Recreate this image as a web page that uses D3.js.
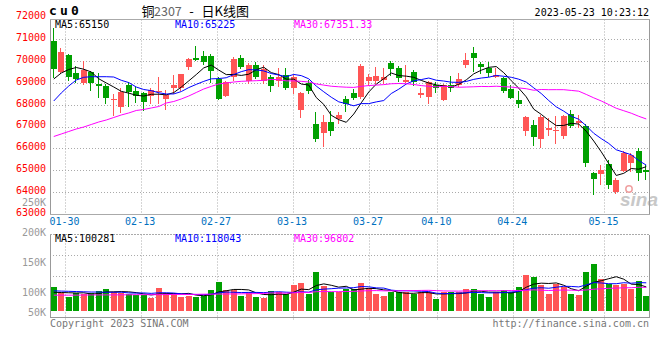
<!DOCTYPE html>
<html><head><meta charset="utf-8">
<script src="https://cdn.jsdelivr.net/npm/d3@7"></script>
<style>body{margin:0;background:#fff}svg{display:block}</style>
</head><body><svg id="c" width="660" height="360"></svg>
<script>
// ---------- data ----------
const dates = ["01-19","01-20","01-30","01-31","02-01","02-02","02-03","02-06","02-07","02-08","02-09","02-10","02-13","02-14","02-15","02-16","02-17","02-20","02-21","02-22","02-23","02-24","02-27","02-28",
"03-01","03-02","03-03","03-06","03-07","03-08","03-09","03-10","03-13","03-14","03-15","03-16","03-17","03-20","03-21","03-22","03-23","03-24","03-27","03-28","03-29","03-30","03-31",
"04-03","04-04","04-06","04-07","04-10","04-11","04-12","04-13","04-14","04-17","04-18","04-19","04-20","04-21","04-24","04-25","04-26","04-27","04-28",
"05-04","05-05","05-08","05-09","05-10","05-11","05-12","05-15","05-16","05-17","05-18","05-19","05-22","05-23"];
const open  = [70920,69514,70294,69468,68982,69486,68950,68860,68230,67908,68905,68630,68520,68400,68580,68275,68780,68750,69743,70140,70240,70240,69165,68400,69270,70140,69110,69820,69087,69270,69090,69360,68780,67757,68980,67115,66700,67205,67345,68262,68550,68367,69087,69090,69120,69900,69670,69040,69515,68460,68353,68900,68215,68905,68920,69820,70390,69880,69670,69285,69240,68730,68215,66807,67070,66413,66840,66800,66565,67560,67147,67025,64855,64820,65270,63980,64970,65310,65870,65010];
const high  = [71500,70600,70330,69775,69990,69550,69470,68935,68500,68780,69060,68830,68600,68750,69270,68675,69360,69420,70160,70690,70460,70310,69280,69080,70200,70280,69900,69940,69820,69360,69670,69670,69360,68600,69130,67650,67550,67730,67650,68400,68700,69850,69400,69740,69670,70020,69780,69820,69590,68750,69090,69050,68950,69320,69470,70360,70630,69970,69970,69670,69290,68900,68630,67490,67300,67530,67375,67480,67530,67760,67530,67100,64930,65230,65460,64630,65870,65800,66000,65230];
const low   = [69250,69440,69130,69055,68936,68675,68340,68090,67530,67650,67940,68140,67760,68070,68100,67790,68520,68675,69620,70050,69855,69050,68250,68380,69150,69670,68980,69210,68980,68640,68860,68730,68520,67450,68520,66350,66110,66630,67150,67725,68250,68320,68900,68980,68980,69360,69090,69030,68900,68370,68090,68600,68200,68650,68860,69740,69560,69440,69310,69260,68600,68290,67880,66610,66150,66075,66600,66230,66460,66990,66990,65200,63890,64360,64190,63960,64950,64970,64550,64590];
const close = [69650,70417,69284,69193,69592,69010,68870,68320,68270,68596,68596,68380,68140,68675,68620,68445,68890,69410,70096,70070,69975,69540,68262,69055,70110,69745,69820,69285,69640,68870,69285,68780,69285,68523,68640,66413,67210,66790,67515,68030,68310,69790,69270,69320,69260,69625,69210,69130,69055,68550,69028,68780,68905,68780,69180,70050,70160,69740,69440,69360,68640,68320,68030,67450,66530,67450,66945,66840,67480,67020,67266,65310,64590,65005,64320,64545,65800,65690,64850,64900];
const volume = [101,74,60,74,70,76,83,93,78,74,71,67,67,55,96,76,71,60,64,60,64,88,121,88,88,64,78,60,54,83,78,70,108,117,72,163,105,79,78,90,90,118,97,71,64,78,78,78,71,78,78,50,78,78,78,92,92,71,60,78,88,78,101,150,143,108,71,113,101,71,67,164,196,133,113,108,113,92,125,64].map(v => v * 1000);
// moving-average values before enough visible bars exist
const ma5Head  = [69179,69454,69615,69707];
const ma10Head = [68170,68537,68858,69133,69257,69284,69284,69284,69270];
const ma30Head = [66541,66656,66771,66886,66977,67092,67207,67298,67413,67528,67620,67734,67780,67849,67918,68078,68147,68262,68399,68560,68720,68840,68950,68995,69041,69073,69087,69101,69119];
const vma5Head  = [78000,77000,76000,75000];
const vma10Head = [84000,83000,82000,81000,80000,79000,79000,78000,78000];
const vma30Head = [66000,66000,66000,66000,66500,67000,67000,67000,67000,67500,67500,68000,68000,68000,68000,68500,69000,69000,69000,69500,70000,70000,70500,71000,71000,71500,72000,72500,73000];
const tickDates = ["01-30","02-13","02-27","03-13","03-27","04-10","04-24","05-15"];
const priceTicks = [72000,71000,70000,69000,68000,67000,66000,65000,64000,63000];
const volTicks = [250000,200000,150000,100000,50000];
const priceLegend = ["MA5:65150","MA10:65225","MA30:67351.33"];
const volLegend = ["MA5:100281","MA10:118043","MA30:96802"];
const symbol = "cu0", title = "2307", stamp = "2023-05-23 10:23:12";

// ---------- layout ----------
const L = 50, R = 650, pTop = 19.5, pBot = 213.5, vTop = 234.5, vBot = 317.5;
const UP = "#ff5555", DOWN = "#00a000", GRID = "#aaa", FRAME = "#999";
const MONO = "'DejaVu Sans Mono', monospace";
const n = close.length;
const svg = d3.select("#c");

const xb = d3.scaleBand().domain(d3.range(n)).range([L, R]);
const xc = i => xb(i) + xb.bandwidth() / 2;
const xGrid = d3.scaleLinear().domain([0, n - 1]).range([L, R]);
const y = d3.scaleLinear().domain([63000, 71000]).range([213.7, 39.3]);
const yV = d3.scaleLinear().domain([0, 200000]).range([311, 263]);
const yLab = d3.scaleLinear().domain([100000, 250000]).range([292.7, 202.7]);

function ma(arr, p, head) {
  return arr.map((_, i) => i < p - 1 ? head[i] : d3.mean(arr.slice(i - p + 1, i + 1)));
}
const tickIdx = tickDates.map(d => dates.indexOf(d));

// ---------- grid ----------
const g = svg.append("g");
[64000,65000,66000,67000,68000,69000,70000,71000].forEach(v => {
  const yy = Math.round(y(v)) + 0.5;
  g.append("line").attr("x1", L).attr("x2", R).attr("y1", yy).attr("y2", yy)
    .attr("stroke", GRID).attr("stroke-dasharray", "1,2");
});
[1,2,3].forEach(k => {
  const yy = Math.round(vTop + k * (vBot - vTop) / 4) + 0.5;
  g.append("line").attr("x1", L).attr("x2", R).attr("y1", yy).attr("y2", yy)
    .attr("stroke", GRID).attr("stroke-dasharray", "1,2");
});
tickIdx.forEach(i => {
  const xx = Math.round(xGrid(i)) + 0.5;
  g.append("line").attr("x1", xx).attr("x2", xx).attr("y1", pTop).attr("y2", pBot)
    .attr("stroke", GRID).attr("stroke-dasharray", "1,2");
  g.append("line").attr("x1", xx).attr("x2", xx).attr("y1", vTop).attr("y2", 321)
    .attr("stroke", GRID).attr("stroke-dasharray", "1,2");
});

// watermark
svg.append("text").attr("x", 620).attr("y", 206).attr("font-family", "'Liberation Sans', Arial")
  .attr("font-size", 19).attr("font-weight", "bold").attr("font-style", "italic")
  .attr("fill", "#c8c8c8").text("sina");
svg.append("circle").attr("cx", 629).attr("cy", 189).attr("r", 3.2).attr("fill", "none")
  .attr("stroke", "#f0a0a0").attr("stroke-width", 1.5);

// ---------- candles ----------
const cg = svg.append("g").attr("shape-rendering", "crispEdges");
d3.range(n).forEach(i => {
  const up = close[i] >= open[i];
  const col = up ? UP : DOWN;
  const x0 = Math.round(xc(i) - 3);
  cg.append("line").attr("x1", x0 + 2.5).attr("x2", x0 + 2.5)
    .attr("y1", Math.round(y(high[i]))).attr("y2", Math.round(y(low[i])) + 1)
    .attr("stroke", col);
  const t = Math.round(y(Math.max(open[i], close[i])));
  const b = Math.round(y(Math.min(open[i], close[i])));
  cg.append("rect").attr("x", x0).attr("y", t).attr("width", 6).attr("height", Math.max(1, b - t))
    .attr("fill", col);
});

// price MAs
const line = d3.line().x((d, i) => xc(i)).y(d => y(d));
[[ma(close, 5, ma5Head), "#000"], [ma(close, 10, ma10Head), "#0000ff"], [ma(close, 30, ma30Head), "#ff00ff"]]
  .forEach(([s, c]) => svg.append("path").attr("d", line(s)).attr("fill", "none").attr("stroke", c).attr("stroke-width", 1));

// ---------- volume ----------
const vg = svg.append("g").attr("shape-rendering", "crispEdges");
d3.range(n).forEach(i => {
  const col = close[i] >= open[i] ? UP : DOWN;
  const x0 = Math.round(xc(i) - 3);
  const t = Math.round(yV(volume[i]));
  vg.append("rect").attr("x", x0).attr("y", t).attr("width", 6).attr("height", Math.round(yV(0)) - t).attr("fill", col);
});
const vline = d3.line().x((d, i) => xc(i)).y(d => yV(d));
[[ma(volume, 5, vma5Head), "#000"], [ma(volume, 10, vma10Head), "#0000ff"], [ma(volume, 30, vma30Head), "#ff00ff"]]
  .forEach(([s, c]) => svg.append("path").attr("d", vline(s)).attr("fill", "none").attr("stroke", c).attr("stroke-width", 1));

// ---------- frames ----------
const fr = svg.append("g").attr("stroke", FRAME).attr("fill", "none").attr("shape-rendering", "crispEdges");
fr.append("line").attr("x1", L + 0.5).attr("x2", L + 0.5).attr("y1", pTop).attr("y2", pBot);
fr.append("line").attr("x1", R - 0.5).attr("x2", R - 0.5).attr("y1", pTop).attr("y2", pBot);
fr.append("line").attr("x1", L).attr("x2", R).attr("y1", pTop).attr("y2", pTop).attr("stroke", "#aaa");
fr.append("line").attr("x1", L).attr("x2", R).attr("y1", pBot + 0.5).attr("y2", pBot + 0.5).attr("stroke", "#aaa");
fr.append("line").attr("x1", L + 0.5).attr("x2", L + 0.5).attr("y1", vTop).attr("y2", vBot);
fr.append("line").attr("x1", R - 0.5).attr("x2", R - 0.5).attr("y1", vTop).attr("y2", vBot);
fr.append("line").attr("x1", L).attr("x2", R).attr("y1", vTop).attr("y2", vTop).attr("stroke", "#aaa").attr("stroke-dasharray", "2,1");
fr.append("line").attr("x1", L).attr("x2", R).attr("y1", vBot).attr("y2", vBot);

// ---------- axes ----------
const pa = svg.append("g").attr("transform", "translate(46,-1.8)")
  .call(d3.axisLeft(y).tickValues(priceTicks).tickSize(0).tickPadding(0).tickFormat(d3.format("d")));
pa.select(".domain").remove();
pa.selectAll("text").attr("font-family", MONO).attr("font-size", 10).attr("fill", "#ff0000");

const va = svg.append("g").attr("transform", "translate(46,0)");
volTicks.forEach(v => {
  va.append("text").attr("x", 0).attr("y", Math.min(yLab(v), 313)).attr("dy", "0.32em")
    .attr("text-anchor", "end").attr("font-family", MONO).attr("font-size", 10).attr("fill", "#999")
    .text(v / 1000 + "K");
});

const xa = svg.append("g").attr("transform", "translate(-1.5,217.5)")
  .call(d3.axisBottom(xGrid).tickValues(tickIdx).tickSize(0).tickPadding(0).tickFormat(i => dates[i]));
xa.select(".domain").remove();
xa.selectAll("text").attr("font-family", MONO).attr("font-size", 10).attr("fill", "#0070c0")
  .attr("text-anchor", function (i) { return xGrid(i) - 1.5 - 15 < L - 1 ? "start" : "middle"; })
  .attr("x", function (i) { return xGrid(i) - 1.5 - 15 < L - 1 ? (L + 0.5) - xGrid(i) : 0; });

// ---------- header & legends ----------
svg.append("text").attr("x", 49).attr("y", 15).attr("font-family", MONO).attr("font-size", 13)
  .attr("font-weight", "bold").attr("letter-spacing", "3.2px").attr("fill", "#000").text(symbol);
const tf = "'Noto Sans CJK SC', sans-serif";
svg.append("text").attr("x", 141.5).attr("y", 15.5).attr("font-family", tf).attr("font-size", 13).attr("fill", "#000").text("铜");
svg.append("text").attr("x", 154).attr("y", 15.5).attr("font-family", tf).attr("font-size", 12.5).attr("fill", "#666").text(title);
svg.append("text").attr("x", 191.5).attr("y", 15.5).attr("text-anchor", "middle").attr("font-family", tf).attr("font-size", 13).attr("fill", "#000").text("-");
svg.append("text").attr("x", 201.5).attr("y", 15.5).attr("font-family", tf).attr("font-size", 13).attr("fill", "#000").text("日K线图");
svg.append("text").attr("x", 649).attr("y", 15.5).attr("text-anchor", "end").attr("font-family", MONO)
  .attr("font-size", 10).attr("fill", "#000").text(stamp);

const legX = [55, 175, 294], legC = ["#000", "#0000ff", "#ff00ff"];
priceLegend.forEach((t, k) => svg.append("text").attr("x", legX[k]).attr("y", 27.5)
  .attr("font-family", MONO).attr("font-size", 10).attr("fill", legC[k]).text(t));
volLegend.forEach((t, k) => svg.append("text").attr("x", legX[k]).attr("y", 242)
  .attr("font-family", MONO).attr("font-size", 10).attr("fill", legC[k]).text(t));

svg.append("text").attr("x", 50).attr("y", 327).attr("font-family", MONO).attr("font-size", 10)
  .attr("fill", "#777").text("Copyright 2023 SINA.COM");
svg.append("text").attr("x", 649).attr("y", 327).attr("text-anchor", "end").attr("font-family", MONO)
  .attr("font-size", 10).attr("fill", "#777").text("http://finance.sina.com.cn");
</script></body></html>
